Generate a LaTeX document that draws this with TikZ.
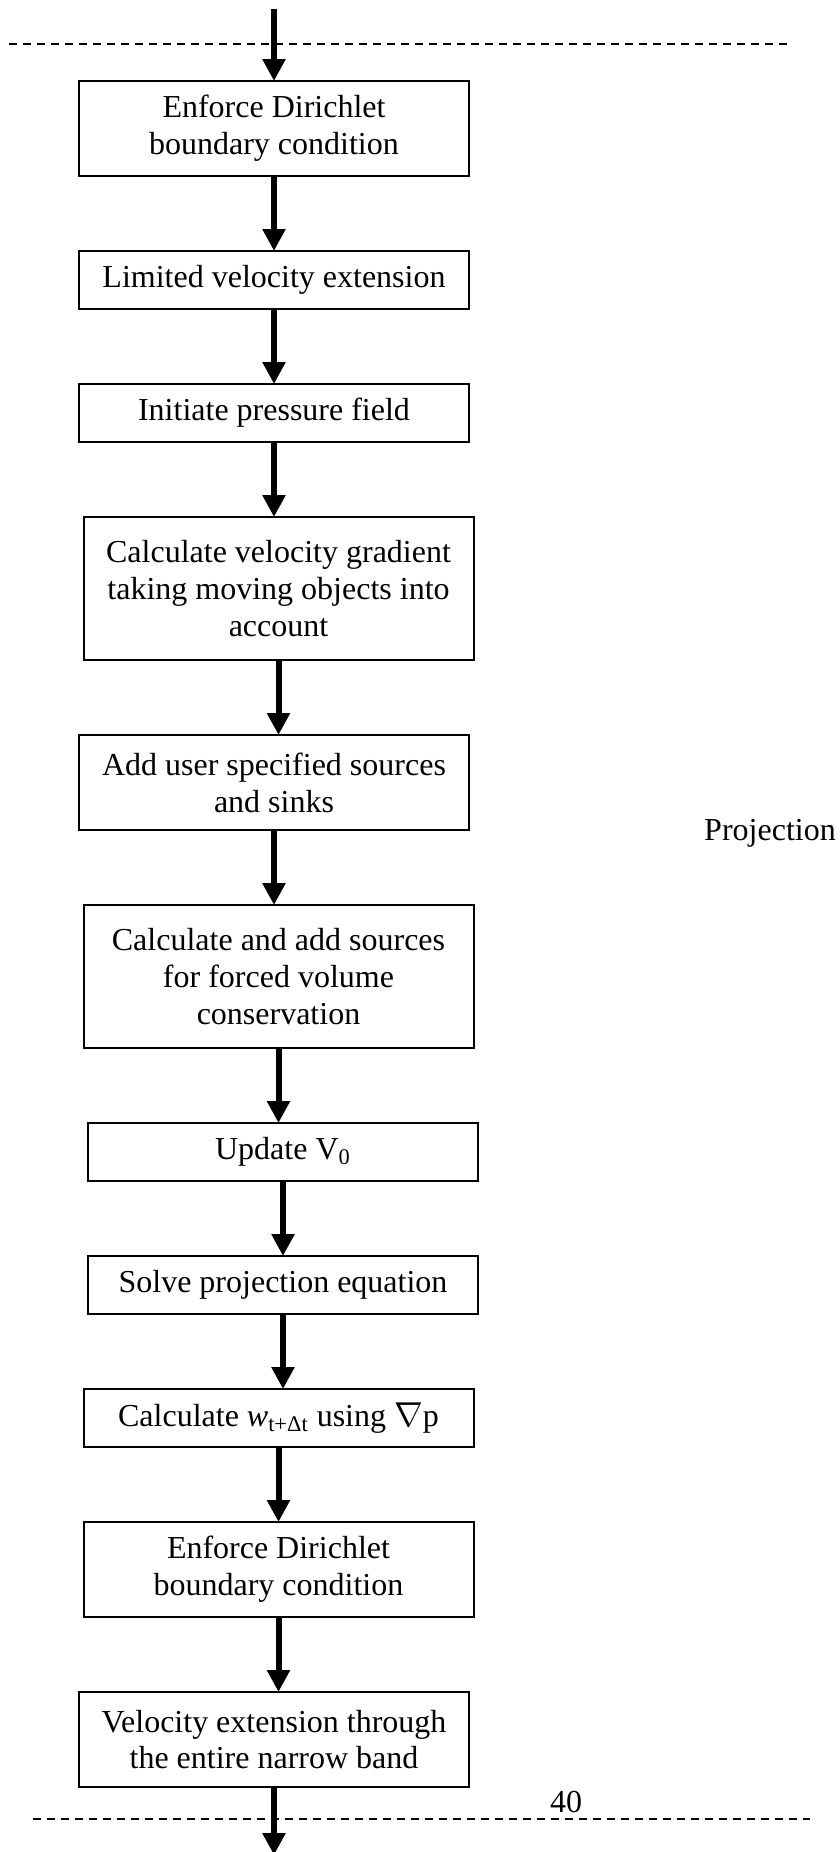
\documentclass[tikz,border=0pt]{standalone}
\usepackage{fontspec}
\setmainfont{Liberation Serif}
\usetikzlibrary{positioning,arrows.meta}

\begin{document}
\begin{tikzpicture}[
  node distance=37.5pt,
  box/.style={draw, line width=1pt, outer sep=0pt, minimum width=195pt, minimum height=29pt, align=center, inner sep=2pt, font=\fontsize{16pt}{18.4pt}\selectfont},
  twoline/.style={box, minimum height=47.5pt},
  threeline/.style={box, minimum height=71.5pt},
  label/.style={font=\fontsize{16pt}{18.4pt}\selectfont, inner sep=0pt},
  arrow/.style={-{Triangle[length=11pt, width=11pt]}, line width=3pt},
  sep/.style={dash pattern=on 4pt off 3pt, line width=1pt}
]
\useasboundingbox (0,0) rectangle (420pt,-926pt);
\node[twoline] (b1) at (137pt,-64.25pt) {Enforce Dirichlet\\boundary condition};
\node[box, below=of b1] (b2) {Limited velocity extension};
\node[box, below=of b2] (b3) {Initiate pressure field};
\node[threeline, below=of b3, xshift=2.25pt] (b4) {Calculate velocity gradient\\taking moving objects into\\account};
\node[twoline, below=of b4, xshift=-2.25pt] (b5) {Add user specified sources\\and sinks};
\node[threeline, below=of b5, xshift=2.25pt] (b6) {Calculate and add sources\\for forced volume\\conservation};
\node[box, below=of b6, xshift=2.25pt] (b7) {Update V\textsubscript{0}};
\node[box, below=of b7] (b8) {Solve projection equation};
\node[box, below=of b8, xshift=-2.25pt] (b9) {Calculate \textit{w}\textsubscript{t+Δt} using $\nabla$p};
\node[twoline, below=of b9] (b10) {Enforce Dirichlet\\boundary condition};
\node[twoline, below=of b10, xshift=-2.25pt] (b11) {Velocity extension through\\the entire narrow band};
\coordinate[above=36pt of b1.north] (in);
\coordinate[below=34pt of b11.south] (out);
\node[label] (proj) at (385pt,-416.5pt) {Projection};
\node[label] (page) at (283pt,-901pt) {40};
% page breaks
\draw[sep] (4.5pt,-21.8pt) -- (394.5pt,-21.8pt);
\draw[sep] (16.5pt,-909.5pt) -- (405pt,-909.5pt);
\draw[arrow] (in) -- (b1.north);
\draw[arrow] (b1.south) -- (b1.south |- b2.north);
\draw[arrow] (b2.south) -- (b2.south |- b3.north);
\draw[arrow] (b3.south) -- (b3.south |- b4.north);
\draw[arrow] (b4.south) -- (b4.south |- b5.north);
\draw[arrow] (b5.south) -- (b5.south |- b6.north);
\draw[arrow] (b6.south) -- (b6.south |- b7.north);
\draw[arrow] (b7.south) -- (b7.south |- b8.north);
\draw[arrow] (b8.south) -- (b8.south |- b9.north);
\draw[arrow] (b9.south) -- (b9.south |- b10.north);
\draw[arrow] (b10.south) -- (b10.south |- b11.north);
\draw[arrow] (b11.south) -- (out);
\end{tikzpicture}
\end{document}
